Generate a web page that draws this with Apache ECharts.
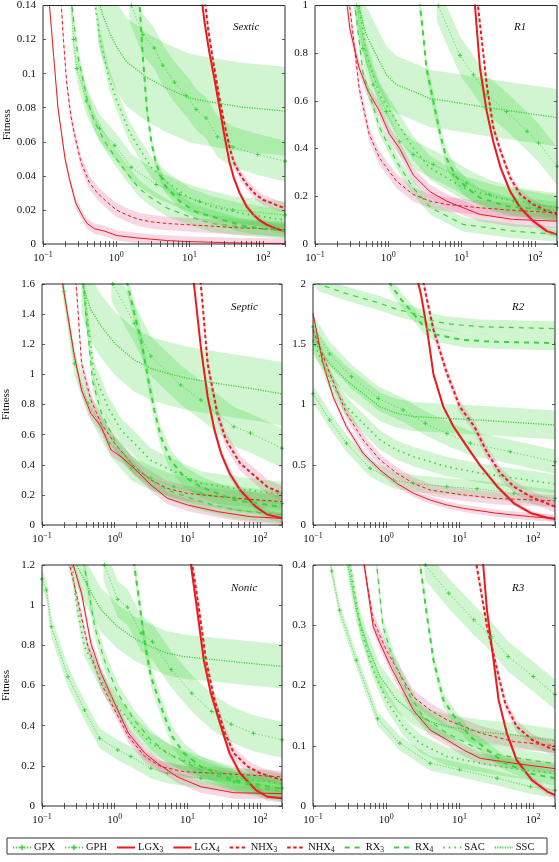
<!DOCTYPE html>
<html><head><meta charset="utf-8">
<script src="https://cdn.jsdelivr.net/npm/echarts@6/dist/echarts.min.js"></script>
<style>html,body{margin:0;padding:0;background:#fff}#c{width:559px;height:862px}</style>
</head><body><div id="c"></div>
<script>
const SERIES_NAMES = ['GPX','GPH','LGX3','LGX4','NHX3','NHX4','RX3','RX4','SAC','SSC'];
const PANEL_TITLES = ['Sextic','R1','Septic','R2','Nonic','R3'];
const X_MIN = 0.1, X_MAX = 200;
const X_LABEL_VALUES = [0.1, 1, 10, 100];
const X_TICK_VALUES = [0.1,0.2,0.3,0.4,0.5,0.6,0.7,0.8,0.9,1,2,3,4,5,6,7,8,9,10,20,30,40,50,60,70,80,90,100,200];
const Y_TICKS_SEXTIC = [0,0.02,0.04,0.06,0.08,0.1,0.12,0.14];
const Y_TICKS_R1 = [0,0.2,0.4,0.6,0.8,1];
const Y_TICKS_SEPTIC = [0,0.2,0.4,0.6,0.8,1,1.2,1.4,1.6];
const Y_TICKS_R2 = [0,0.5,1,1.5,2];
const Y_TICKS_NONIC = [0,0.2,0.4,0.6,0.8,1,1.2];
const Y_TICKS_R3 = [0,0.1,0.2,0.3,0.4];

// ---- Sextic ----
const SEXTIC_GPX = [[0.24,0.145],[0.26,0.12],[0.29,0.103],[0.39,0.084],[0.59,0.068],[0.95,0.058],[1.6,0.045],[3.5,0.035],[7.3,0.029],[13.7,0.025],[39,0.02],[200,0.017]];
const SEXTIC_GPH = [[1.5,0.145],[1.6,0.14],[2.3,0.123],[3.3,0.115],[4.3,0.105],[6.2,0.095],[9,0.087],[12.3,0.079],[16.8,0.074],[24,0.063],[39,0.057],[85,0.0525],[200,0.0486]];
const SEXTIC_LGX3 = [[0.12,0.145],[0.14,0.11],[0.16,0.08],[0.2,0.05],[0.23,0.038],[0.28,0.024],[0.35,0.016],[0.4,0.012],[0.5,0.009],[0.7,0.0075],[1,0.005],[2,0.0035],[5,0.002],[10,0.0014],[30,0.0008],[100,0.0004],[200,0.0003]];
const SEXTIC_LGX4 = [[14.5,0.145],[16,0.13],[18.5,0.113],[22,0.096],[25.6,0.08],[30,0.063],[35,0.048],[40,0.039],[48,0.03],[60,0.022],[73,0.0175],[90,0.014],[111,0.0115],[150,0.009],[200,0.0075]];
const SEXTIC_NHX3 = [[0.175,0.145],[0.19,0.12],[0.21,0.095],[0.24,0.075],[0.27,0.064],[0.33,0.048],[0.43,0.036],[0.55,0.03],[0.73,0.025],[1,0.02],[1.4,0.017],[2,0.0145],[3,0.013],[5,0.012],[8,0.0115],[20,0.0105],[40,0.0096],[100,0.009],[200,0.0084]];
const SEXTIC_NHX4 = [[16,0.145],[18,0.125],[21,0.107],[25,0.088],[30,0.07],[35,0.057],[40,0.048],[50,0.04],[60,0.035],[80,0.029],[100,0.026],[150,0.023],[200,0.021]];
const SEXTIC_RX3 = [[0.24,0.145],[0.3,0.11],[0.4,0.085],[0.5,0.072],[0.7,0.06],[1,0.05],[1.5,0.04],[2,0.033],[3,0.027],[5,0.021],[10,0.016],[20,0.012],[50,0.01],[100,0.009],[200,0.008]];
const SEXTIC_RX4 = [[2.05,0.145],[2.3,0.11],[2.6,0.08],[3,0.06],[3.5,0.047],[4.5,0.035],[7.3,0.025],[12,0.019],[23,0.0154],[50,0.011],[100,0.009],[200,0.0076]];
const SEXTIC_SAC = [[0.5,0.145],[0.6,0.12],[0.8,0.097],[1,0.085],[1.5,0.066],[2,0.057],[3,0.045],[5,0.036],[10,0.027],[20,0.022],[50,0.018],[100,0.016],[200,0.014]];
const SEXTIC_SSC = [[0.56,0.145],[0.6,0.14],[0.66,0.134],[0.81,0.124],[1,0.116],[1.37,0.107],[2.57,0.098],[4.8,0.0916],[10,0.0857],[16.9,0.0838],[31.6,0.0818],[48,0.0805],[200,0.078]];
const BAND_SEXTIC = [0.008,0.012,0.003,0.002,0.004,0.003,0.005,0.004,0.006,0.026];

// ---- R1 ----
const R1_GPX = [[0.35,1.02],[0.37,1],[0.45,0.82],[0.62,0.668],[0.94,0.556],[1.43,0.43],[2.18,0.375],[4.1,0.333],[7.7,0.29],[11.7,0.256],[24,0.208],[51,0.18],[200,0.152]];
const R1_GPH = [[4.6,1.02],[4.8,1],[9.5,0.79],[14.5,0.71],[22,0.626],[41,0.556],[78,0.473],[112,0.424],[200,0.326]];
const R1_LGX3 = [[0.27,1.02],[0.3,0.9],[0.4,0.738],[0.53,0.64],[0.76,0.556],[1.04,0.46],[1.43,0.4],[2.18,0.29],[3.68,0.22],[6.2,0.18],[10.5,0.152],[17.8,0.124],[51,0.103],[200,0.096]];
const R1_LGX4 = [[15,1.02],[15.2,1],[17.8,0.738],[22,0.556],[27,0.43],[34,0.32],[46,0.22],[63,0.152],[95,0.096],[145,0.054],[200,0.04]];
const R1_NHX3 = [[0.29,1.02],[0.31,0.95],[0.4,0.654],[0.55,0.459],[0.76,0.36],[1.29,0.264],[2.18,0.208],[3.68,0.18],[6.2,0.166],[17.8,0.152],[51,0.141],[200,0.131]];
const R1_NHX4 = [[16.5,1.02],[16.7,1],[22,0.668],[27,0.49],[34,0.39],[46,0.278],[63,0.208],[95,0.166],[145,0.138],[200,0.124]];
const R1_RX3 = [[0.33,1.02],[0.35,1],[0.45,0.72],[0.76,0.487],[1.29,0.347],[2.18,0.236],[3.8,0.152],[10.5,0.082],[51,0.054],[200,0.04]];
const R1_RX4 = [[2.6,1.02],[2.7,1],[3,0.877],[3.3,0.74],[4.1,0.6],[5.1,0.46],[6.2,0.36],[8.5,0.28],[11.7,0.236],[17.8,0.194],[41,0.159],[200,0.138]];
const R1_SAC = [[0.38,1.02],[0.4,1],[0.5,0.8],[0.76,0.626],[1.29,0.515],[2.18,0.403],[3.68,0.32],[10.5,0.236],[30,0.194],[200,0.152]];
const R1_SSC = [[0.37,1.02],[0.39,1],[0.5,0.877],[0.69,0.79],[0.94,0.71],[1.29,0.668],[2.18,0.64],[3.68,0.61],[6.2,0.6],[17.8,0.577],[51,0.556],[200,0.53]];
const BAND_R1 = [0.06,0.08,0.03,0.015,0.03,0.02,0.03,0.04,0.05,0.12];

// ---- Septic ----
const SEPTIC_GPX = [[0.19,1.62],[0.2,1.55],[0.28,1.07],[0.43,0.81],[0.65,0.653],[0.85,0.542],[1.7,0.376],[3.15,0.31],[6.5,0.254],[15.3,0.21],[43.6,0.177],[200,0.142]];
const SEPTIC_GPH = [[0.9,1.62],[0.94,1.6],[1.86,1.34],[3.15,1.12],[8.1,0.93],[15.3,0.83],[25.8,0.741],[43.6,0.653],[73.7,0.61],[200,0.51]];
const SEPTIC_LGX3 = [[0.19,1.62],[0.2,1.55],[0.28,1.118],[0.35,0.896],[0.47,0.741],[0.65,0.653],[0.89,0.498],[1.22,0.454],[1.86,0.376],[3.15,0.266],[5.3,0.177],[10,0.133],[25.8,0.089],[73.7,0.055],[200,0.044]];
const SEPTIC_LGX4 = [[12,1.62],[12.3,1.6],[15.3,1.18],[19,0.85],[23.6,0.63],[29,0.476],[38,0.343],[53,0.232],[87,0.122],[125,0.07],[200,0.045]];
const SEPTIC_NHX3 = [[0.29,1.62],[0.3,1.55],[0.35,1.07],[0.47,0.83],[0.65,0.675],[1,0.542],[1.86,0.387],[3.15,0.3],[5.3,0.243],[10,0.21],[25.8,0.19],[73.7,0.17],[200,0.155]];
const SEPTIC_NHX4 = [[15,1.62],[15.3,1.6],[19,1.07],[25.8,0.74],[34,0.564],[53,0.41],[87,0.32],[125,0.254],[200,0.21]];
const SEPTIC_RX3 = [[0.37,1.62],[0.4,1.4],[0.5,0.95],[0.65,0.75],[1.1,0.52],[1.86,0.387],[3.15,0.3],[5.3,0.232],[15.3,0.155],[43.6,0.1],[200,0.066]];
const SEPTIC_RX4 = [[1.45,1.62],[1.5,1.6],[1.86,1.405],[2.3,1.23],[2.9,0.963],[3.5,0.764],[4.3,0.586],[5.9,0.43],[9,0.32],[15.3,0.254],[43.6,0.166],[200,0.12]];
const SEPTIC_SAC = [[0.36,1.62],[0.38,1.55],[0.52,1.007],[0.8,0.786],[1.22,0.63],[1.86,0.542],[3.15,0.43],[5.3,0.376],[15.3,0.277],[43.6,0.243],[200,0.205]];
const SEPTIC_SSC = [[0.35,1.62],[0.37,1.58],[0.47,1.43],[0.65,1.32],[1,1.206],[1.86,1.095],[3.15,1.04],[5.3,1.007],[10,0.974],[25.8,0.94],[73.7,0.907],[200,0.87]];
const BAND_SEPTIC = [0.08,0.13,0.04,0.03,0.05,0.05,0.06,0.07,0.08,0.21];

// ---- R2 ----
const R2_GPX = [[0.1,1.09],[0.169,0.871],[0.286,0.678],[0.6,0.47],[1.25,0.373],[2.34,0.346],[6.7,0.318],[17.3,0.3],[55,0.263],[200,0.22]];
const R2_GPH = [[0.1,1.646],[0.169,1.42],[0.336,1.23],[0.78,1.05],[1.7,0.954],[3.4,0.844],[6.7,0.76],[14,0.678],[49,0.608],[200,0.525]];
const R2_LGX3 = [[0.1,1.756],[0.137,1.34],[0.188,1.065],[0.286,0.816],[0.484,0.595],[0.82,0.456],[1.39,0.346],[2.34,0.263],[3.97,0.207],[6.7,0.166],[11.3,0.138],[32.5,0.097],[93,0.069],[200,0.055]];
const R2_LGX4 = [[2.7,2.02],[3,1.9],[3.6,1.62],[4.4,1.25],[6,0.98],[8.2,0.82],[12.6,0.65],[19.2,0.49],[32.5,0.32],[55,0.18],[93,0.1],[157,0.06],[200,0.05]];
const R2_NHX3 = [[0.1,1.62],[0.169,1.26],[0.286,0.927],[0.484,0.705],[0.82,0.54],[1.39,0.43],[2.34,0.346],[3.97,0.29],[11.3,0.25],[32.5,0.22],[200,0.2]];
const R2_NHX4 = [[3.2,2.02],[3.5,1.9],[4.4,1.62],[6.7,1.26],[10.1,0.98],[15.9,0.816],[24,0.595],[36,0.43],[55,0.318],[93,0.235],[200,0.152]];
const R2_RX3 = [[0.11,2.02],[0.12,2],[0.286,1.92],[0.82,1.84],[1.39,1.79],[2.34,1.756],[3.97,1.7],[6.7,1.67],[20,1.645],[200,1.63]];
const R2_RX4 = [[1.1,2.02],[1.13,2],[1.6,1.87],[2.34,1.756],[3.2,1.65],[4.8,1.58],[11.3,1.535],[32.5,1.52],[200,1.51]];
const R2_SAC = [[0.1,1.535],[0.169,1.2],[0.286,0.98],[0.484,0.844],[0.82,0.705],[1.39,0.622],[2.34,0.567],[6.7,0.484],[19.2,0.43],[200,0.34]];
const R2_SSC = [[0.1,1.535],[0.169,1.34],[0.286,1.2],[0.484,1.09],[0.82,0.98],[1.39,0.927],[2.34,0.9],[6.7,0.885],[19.2,0.87],[200,0.83]];
const BAND_R2 = [0.07,0.1,0.03,0.02,0.05,0.05,0.06,0.06,0.08,0.12];

// ---- Nonic ----
const NONIC_GPX = [[0.1,1.13],[0.115,1.076],[0.134,0.893],[0.227,0.644],[0.384,0.478],[0.62,0.337],[1.1,0.279],[1.67,0.246],[3.15,0.188],[5.3,0.163],[15.3,0.138],[43.6,0.121],[200,0.09]];
const NONIC_GPH = [[0.7,1.22],[0.72,1.2],[1.1,1.03],[1.5,0.99],[2.3,0.86],[3.3,0.818],[6,0.68],[11.5,0.561],[21.6,0.47],[40,0.407],[81,0.362],[200,0.33]];
const NONIC_LGX3 = [[0.26,1.22],[0.27,1.2],[0.35,1.059],[0.47,0.81],[0.65,0.66],[1,0.511],[1.55,0.362],[2.6,0.262],[3.9,0.212],[7.2,0.146],[15.3,0.096],[43.6,0.066],[200,0.062]];
const NONIC_LGX4 = [[11,1.22],[11.2,1.2],[13.6,0.976],[16.8,0.727],[21,0.561],[29,0.395],[38,0.262],[53,0.163],[87,0.08],[125,0.046],[200,0.038]];
const NONIC_NHX3 = [[0.23,1.22],[0.24,1.2],[0.31,1.026],[0.43,0.793],[0.65,0.611],[1,0.478],[1.55,0.345],[2.6,0.246],[4.3,0.196],[9,0.171],[25.8,0.163],[200,0.145]];
const NONIC_NHX4 = [[11.5,1.22],[11.7,1.2],[14.5,0.976],[18,0.727],[23.6,0.528],[33,0.362],[43.6,0.262],[68,0.196],[100,0.163],[200,0.13]];
const NONIC_RX3 = [[0.37,1.22],[0.38,1.2],[0.53,0.893],[0.72,0.727],[1.1,0.561],[1.86,0.428],[3.15,0.329],[5.3,0.262],[15.3,0.179],[43.6,0.121],[200,0.07]];
const NONIC_RX4 = [[1.8,1.22],[1.86,1.2],[2.1,1.059],[2.6,0.81],[3.15,0.644],[4.5,0.478],[6.2,0.345],[9,0.262],[15.3,0.196],[43.6,0.13],[200,0.085]];
const NONIC_SAC = [[0.25,1.22],[0.26,1.2],[0.3,1.0],[0.384,0.793],[0.65,0.627],[1.1,0.495],[1.86,0.395],[3.15,0.312],[6.6,0.246],[15.3,0.196],[43.6,0.146],[200,0.11]];
const NONIC_SSC = [[0.29,1.22],[0.3,1.2],[0.43,1.09],[0.65,0.976],[1.1,0.893],[1.86,0.835],[3.15,0.793],[5.3,0.76],[9,0.744],[25.8,0.727],[73.7,0.71],[200,0.695]];
const BAND_NONIC = [0.05,0.09,0.03,0.02,0.03,0.03,0.05,0.05,0.05,0.11];

// ---- R3 ----
const R3_GPX = [[0.17,0.41],[0.18,0.39],[0.23,0.325],[0.39,0.242],[0.76,0.145],[1.53,0.104],[3.97,0.071],[10,0.06],[32.5,0.046],[93,0.032],[200,0.026]];
const R3_GPH = [[3.3,0.41],[3.4,0.4],[7.1,0.353],[15.6,0.309],[27,0.281],[46,0.248],[101,0.215],[200,0.185]];
const R3_LGX3 = [[0.48,0.41],[0.5,0.4],[0.66,0.298],[0.82,0.27],[1.15,0.231],[1.6,0.198],[2.34,0.159],[3.97,0.126],[6.7,0.11],[11.3,0.093],[19.2,0.079],[55,0.071],[200,0.062]];
const R3_LGX4 = [[20,0.41],[21,0.4],[23.6,0.325],[29,0.242],[34,0.176],[44,0.121],[60,0.076],[97,0.043],[157,0.024],[200,0.018]];
const R3_NHX3 = [[0.48,0.41],[0.5,0.4],[0.66,0.309],[1,0.259],[1.6,0.215],[2.34,0.181],[3.97,0.159],[6.7,0.143],[19.2,0.121],[55,0.107],[200,0.1]];
const R3_NHX4 = [[16.5,0.41],[17,0.4],[23.6,0.298],[32.5,0.226],[42,0.17],[60,0.132],[97,0.11],[157,0.098],[200,0.093]];
const R3_RX3 = [[0.72,0.41],[0.74,0.4],[0.9,0.298],[1.25,0.242],[2,0.187],[3.2,0.148],[6.7,0.121],[15.6,0.098],[35,0.085],[93,0.076],[200,0.07]];
const R3_RX4 = [[2.8,0.41],[2.9,0.4],[3.5,0.325],[4.4,0.242],[6,0.176],[9.1,0.143],[14,0.115],[24,0.093],[42,0.071],[93,0.054],[200,0.046]];
const R3_SAC = [[0.31,0.41],[0.32,0.4],[0.44,0.298],[0.66,0.226],[1,0.176],[1.7,0.132],[2.9,0.104],[6.7,0.082],[19.2,0.071],[55,0.062],[200,0.054]];
const R3_SSC = [[0.29,0.41],[0.3,0.4],[0.39,0.325],[0.54,0.27],[0.82,0.215],[1.39,0.176],[2.34,0.154],[3.97,0.14],[6.7,0.132],[19.2,0.123],[55,0.118],[200,0.108]];
const BAND_R3 = [0.012,0.025,0.01,0.006,0.012,0.01,0.015,0.012,0.015,0.02];

// ---------- layout / style ----------
const GREEN = '#3ad43a', RED = '#ec1b1b';
const GREEN_BAND = 'rgba(60,214,60,0.24)', RED_BAND = 'rgba(230,110,160,0.28)';
const FONT = 'Liberation Serif';
const PLUS = 'path://M3,0H5V3H8V5H5V8H3V5H0V3H3Z';
const STYLES = [
  {c:GREEN, w:0.8, t:[1.2,1.6], sym:PLUS},
  {c:GREEN, w:0.8, t:[1.2,2.2], sym:PLUS},
  {c:RED, w:1.0, t:'solid'},
  {c:RED, w:2.0, t:'solid'},
  {c:RED, w:1.0, t:[3.5,2.5]},
  {c:RED, w:2.0, t:[3.5,2.5]},
  {c:GREEN, w:1.2, t:[5,5]},
  {c:GREEN, w:2.0, t:[5,5]},
  {c:GREEN, w:1.6, t:[1.5,4]},
  {c:GREEN, w:1.3, t:[1.2,1.3]}
];
const PANELS = [
  {curves:[SEXTIC_GPX,SEXTIC_GPH,SEXTIC_LGX3,SEXTIC_LGX4,SEXTIC_NHX3,SEXTIC_NHX4,SEXTIC_RX3,SEXTIC_RX4,SEXTIC_SAC,SEXTIC_SSC], band:BAND_SEXTIC, yt:Y_TICKS_SEXTIC, g:[43,3,242,241], tp:[233,22], fit:true},
  {curves:[R1_GPX,R1_GPH,R1_LGX3,R1_LGX4,R1_NHX3,R1_NHX4,R1_RX3,R1_RX4,R1_SAC,R1_SSC], band:BAND_R1, yt:Y_TICKS_R1, g:[315,3,242,241], tp:[514,22], fit:false},
  {curves:[SEPTIC_GPX,SEPTIC_GPH,SEPTIC_LGX3,SEPTIC_LGX4,SEPTIC_NHX3,SEPTIC_NHX4,SEPTIC_RX3,SEPTIC_RX4,SEPTIC_SAC,SEPTIC_SSC], band:BAND_SEPTIC, yt:Y_TICKS_SEPTIC, g:[41,284,241,241], tp:[231,302], fit:true},
  {curves:[R2_GPX,R2_GPH,R2_LGX3,R2_LGX4,R2_NHX3,R2_NHX4,R2_RX3,R2_RX4,R2_SAC,R2_SSC], band:BAND_R2, yt:Y_TICKS_R2, g:[313,284,242,241], tp:[512,302], fit:false},
  {curves:[NONIC_GPX,NONIC_GPH,NONIC_LGX3,NONIC_LGX4,NONIC_NHX3,NONIC_NHX4,NONIC_RX3,NONIC_RX4,NONIC_SAC,NONIC_SSC], band:BAND_NONIC, yt:Y_TICKS_NONIC, g:[41,565,241,241], tp:[231,583], fit:true},
  {curves:[R3_GPX,R3_GPH,R3_LGX3,R3_LGX4,R3_NHX3,R3_NHX4,R3_RX3,R3_RX4,R3_SAC,R3_SSC], band:BAND_R3, yt:Y_TICKS_R3, g:[313,565,242,241], tp:[512,583], fit:false}
];

const option = {
  animation:false, backgroundColor:'#fff',
  grid:[], xAxis:[], yAxis:[], series:[], graphic:[],
  legend:{
    data:SERIES_NAMES.map((n, k) => STYLES[k].sym ? {name:n} :
      {name:n, itemStyle:{color:'rgba(0,0,0,0)', borderColor:'rgba(0,0,0,0)', borderWidth:0}}),
    left:12, top:841, itemWidth:18, itemHeight:7, itemGap:9, padding:0,
    selectedMode:false,
    formatter:n=>n.replace(/([34])$/, '{sub|$1}'),
    textStyle:{fontFamily:FONT, fontSize:10.5, color:'#111', lineHeight:13, padding:[0,0,0,-2], rich:{sub:{fontFamily:FONT, fontSize:7.5, lineHeight:8, verticalAlign:'bottom', color:'#111'}}}
  }
};
const supFmt = v => { const e = Math.round(Math.log10(v)); return '10{sup|' + (e < 0 ? '\u2212' + (-e) : e) + '}'; };

PANELS.forEach((p, i) => {
  option.grid.push({left:p.g[0], top:p.g[1], width:p.g[2], height:p.g[3], show:true, borderColor:'#2a2a2a', borderWidth:1, backgroundColor:'transparent', z:5});
  const tick = {show:true, inside:true, length:3, customValues:X_TICK_VALUES, lineStyle:{color:'#333', width:0.8}};
  const xb = {type:'log', logBase:10, min:X_MIN, max:X_MAX, gridIndex:i, axisLine:{show:false}, splitLine:{show:false}, minorTick:{show:false}, z:6};
  option.xAxis.push(Object.assign({}, xb, {position:'bottom', axisTick:tick,
    axisLabel:{customValues:X_LABEL_VALUES, formatter:supFmt, margin:7, fontFamily:FONT, fontSize:11, color:'#111', lineHeight:14,
      rich:{sup:{fontFamily:FONT, fontSize:8, lineHeight:8, verticalAlign:'top', color:'#111'}}}}));
  option.xAxis.push(Object.assign({}, xb, {position:'top', axisTick:tick, axisLabel:{show:false}}));
  const yt = p.yt, ymax = yt[yt.length-1], yint = yt[1]-yt[0];
  const ytick = {show:true, inside:true, length:3, lineStyle:{color:'#333', width:0.8}};
  const yb = {type:'value', min:yt[0], max:ymax, interval:yint, gridIndex:i, axisLine:{show:false}, splitLine:{show:false}, z:6};
  option.yAxis.push(Object.assign({}, yb, {position:'left', axisTick:ytick,
    axisLabel:{margin:7, fontFamily:FONT, fontSize:11, color:'#111'},
    name:p.fit ? 'Fitness' : '', nameLocation:'middle', nameGap:30,
    nameTextStyle:{fontFamily:FONT, fontSize:11, color:'#111'}}));
  option.yAxis.push(Object.assign({}, yb, {position:'right', axisTick:ytick, axisLabel:{show:false}}));

  const xi = 2*i, yi = 2*i;
  option.series.push({
    type:'custom', name:'band'+i, xAxisIndex:xi, yAxisIndex:yi, clip:true, silent:true, z:1,
    data:p.curves.map(() => [1, 0]),
    renderItem:(params, api) => {
      const k = params.dataIndex, pts = p.curves[k], e = p.band[k];
      const up = pts.map(d => api.coord([d[0], d[1] + e]));
      const lo = pts.slice().reverse().map(d => api.coord([d[0], d[1] - e]));
      return {type:'polygon', shape:{points:up.concat(lo)}, style:{fill: STYLES[k].c === RED ? RED_BAND : GREEN_BAND, stroke:null}};
    }
  });
  p.curves.forEach((c, k) => {
    const s = STYLES[k];
    option.series.push({
      type:'line', name:SERIES_NAMES[k], xAxisIndex:xi, yAxisIndex:yi, data:c, clip:true, silent:true, z:3,
      symbol: s.sym || 'none', symbolSize: 4, showSymbol: !!s.sym, showAllSymbol:true,
      itemStyle:{color:s.c}, lineStyle:{color:s.c, width:s.w, type:s.t}
    });
  });
  option.graphic.push({type:'text', left:p.tp[0], top:p.tp[1], z:10, style:{text:PANEL_TITLES[i], font:'italic 11px "Liberation Serif"', fill:'#111'}});
});
option.graphic.push({type:'rect', shape:{x:7, y:838, width:540, height:16}, style:{fill:'none', stroke:'#333', lineWidth:1}, z:0});

const chart = echarts.init(document.getElementById('c'), null, {renderer:'canvas'});
chart.setOption(option);
</script></body></html>
